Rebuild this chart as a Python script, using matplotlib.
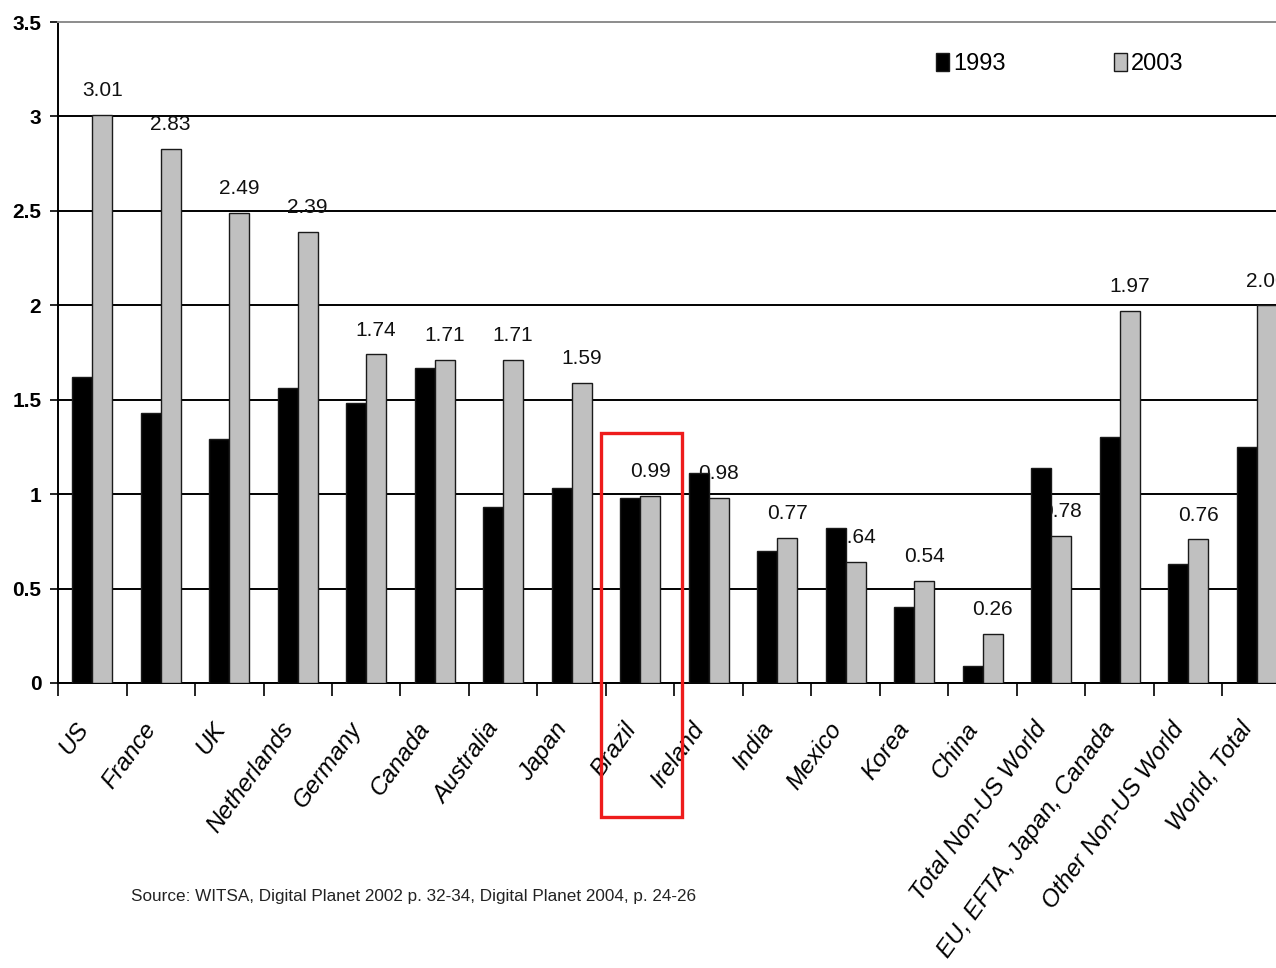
import numpy as np
import matplotlib
matplotlib.use("Agg")
import matplotlib.pyplot as plt
from matplotlib.patches import Rectangle
from matplotlib.transforms import ScaledTranslation

# --- data ---------------------------------------------------------------
categories = ["US", "France", "UK", "Netherlands", "Germany", "Canada",
              "Australia", "Japan", "Brazil", "Ireland", "India", "Mexico",
              "Korea", "China", "Total Non-US World",
              "EU, EFTA, Japan, Canada", "Other Non-US World", "World, Total"]
values_1993 = [1.62, 1.43, 1.29, 1.56, 1.48, 1.67, 0.93, 1.03, 0.98, 1.11,
               0.70, 0.82, 0.40, 0.09, 1.14, 1.30, 0.63, 1.25]
values_2003 = [3.01, 2.83, 2.49, 2.39, 1.74, 1.71, 1.71, 1.59, 0.99, 0.98,
               0.77, 0.64, 0.54, 0.26, 0.78, 1.97, 0.76, 2.00]
series_names = ["1993", "2003"]
y_ticks = [0, 0.5, 1, 1.5, 2, 2.5, 3, 3.5]
y_tick_labels = ["0", "0.5", "1", "1.5", "2", "2.5", "3", "3.5"]
source_note = "Source: WITSA, Digital Planet 2002 p. 32-34, Digital Planet 2004, p. 24-26"

SANS = "Liberation Sans"

W, H, DPI = 1276, 968, 100
fig = plt.figure(figsize=(W / DPI, H / DPI), dpi=DPI)
fig.patch.set_facecolor("white")

# plot area in pixel terms: left edge 58, right edge runs off the figure
ax = fig.add_axes([58 / W, 1 - 683 / H, (W - 58) / W, (683 - 22) / H])

x = np.arange(len(categories))
bw = 0.29
ax.bar(x - bw / 2, values_1993, width=bw, color="black",
       edgecolor="#1a1a1a", linewidth=1, zorder=3, label=series_names[0])
ax.bar(x + bw / 2, values_2003, width=bw, color="#c0c0c0",
       edgecolor="#1a1a1a", linewidth=1, zorder=3, label=series_names[1])

# value labels over the 2003 bars (drawn beneath the bars)
for xi, v in zip(x, values_2003):
    ax.annotate(f"{v:.2f}", xy=(xi + bw / 2, v), xytext=(0, 13.5),
                textcoords="offset points", ha="center", va="baseline",
                fontsize=15, fontfamily=SANS,
                color="#111111", zorder=2, annotation_clip=False)

# y axis
ax.set_yticks(y_ticks)
ax.set_yticklabels(y_tick_labels, fontsize=15, fontfamily=SANS,
                   fontweight="bold")
ax.tick_params(axis="y", direction="out", length=6, width=1.2, pad=6,
               colors="black")
ax.yaxis.grid(True, color="black", linewidth=1.4, zorder=0)
ax.set_axisbelow(True)
ax.get_ygridlines()[-1].set_visible(False)

# x axis: boundary ticks as minor, category labels on major
ax.set_xticks(x)
ax.set_xticks(np.arange(-0.5, len(categories), 1.0), minor=True)
ax.tick_params(axis="x", which="major", length=0, pad=30)
ax.tick_params(axis="x", which="minor", direction="out", length=9, width=1.2)
ax.set_xticklabels(categories, rotation=54, ha="right", va="center",
                   rotation_mode="anchor", fontsize=17.5, fontfamily=SANS,
                   fontstyle="italic")
shift = ScaledTranslation(-9 / DPI, 0, fig.dpi_scale_trans)
for lab in ax.get_xticklabels():
    lab.set_transform(lab.get_transform() + shift)

ax.set_xlim(-0.5, (W - 92.25) / 68.5)
ax.set_ylim(0, 3.5)

for s in ("left", "bottom"):
    ax.spines[s].set_color("black")
    ax.spines[s].set_linewidth(1.4)
ax.spines["top"].set_color("#8c8c8c")
ax.spines["top"].set_linewidth(1.4)
ax.spines["right"].set_visible(False)

# legend in the upper right
ax.legend(loc="upper left", bbox_to_anchor=(936 / W, 1 - 53 / H),
          bbox_transform=fig.transFigure, ncol=2, frameon=False,
          prop={"family": SANS, "size": 17},
          handlelength=0.55, handleheight=0.8, handletextpad=0.2,
          columnspacing=4.55, borderpad=0, borderaxespad=0)

# source note
fig.text(131 / W, 1 - 897 / H, source_note, fontsize=12.3, fontfamily=SANS,
         ha="left", va="center", color="#222222")

# highlight box around Brazil
fig.patches.append(Rectangle((601 / W, 1 - 817 / H), (682 - 601) / W,
                             (817 - 433) / H, transform=fig.transFigure,
                             fill=False, edgecolor="#ee1c1c", linewidth=2.4,
                             zorder=10))

fig.savefig("out.png", dpi=DPI, facecolor="white")
